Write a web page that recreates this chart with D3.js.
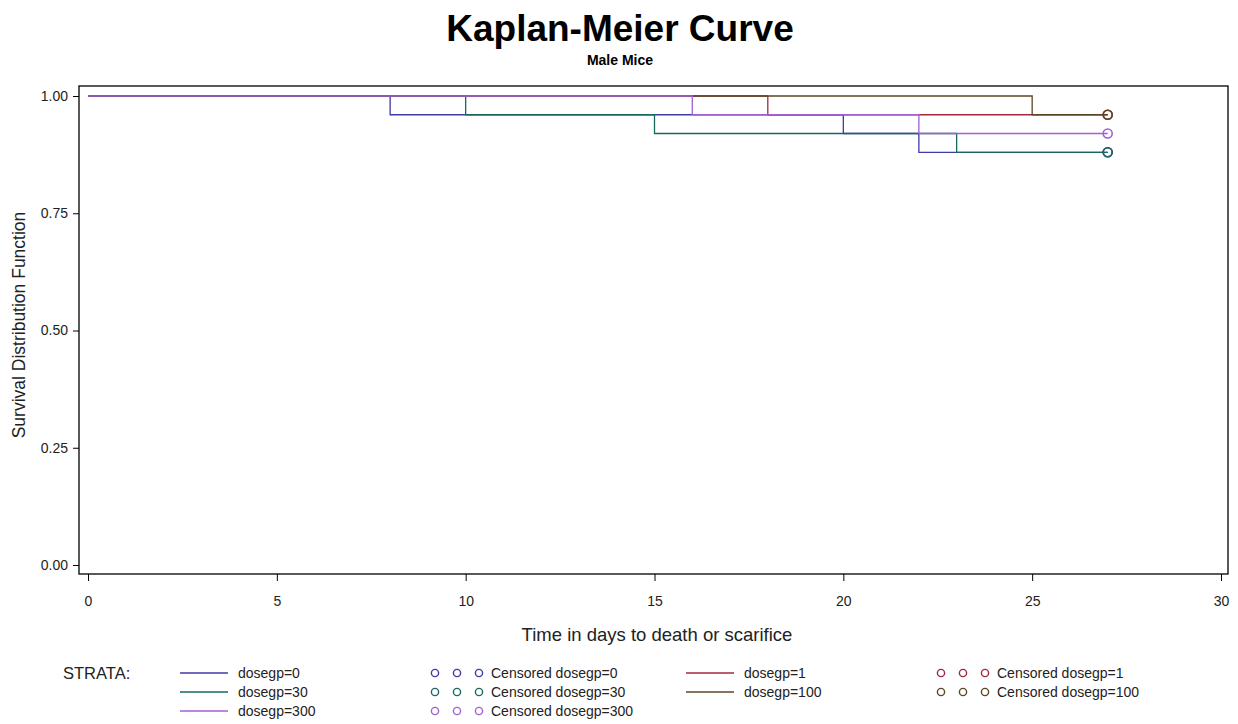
<!DOCTYPE html>
<html>
<head>
<meta charset="utf-8">
<script src="https://cdn.jsdelivr.net/npm/d3@7"></script>
<style>
  html, body { margin: 0; padding: 0; background: #fff; }
  svg { display: block; font-family: Arial, "Liberation Sans", sans-serif; }
</style>
</head>
<body>
<svg id="chart" width="1238" height="724"></svg>
<script>
// ---- data ----
const strataLabels = ["dosegp=0", "dosegp=1", "dosegp=30", "dosegp=100", "dosegp=300"];
const strataColors = ["#4039a8", "#a3283e", "#17695f", "#5a4624", "#a35fd4"];
const dose0Times = [0, 8, 20, 22];
const dose0Surv = [1.00, 0.96, 0.92, 0.88];
const dose1Times = [0, 18];
const dose1Surv = [1.00, 0.96];
const dose30Times = [0, 10, 15, 23];
const dose30Surv = [1.00, 0.96, 0.92, 0.88];
const dose100Times = [0, 25];
const dose100Surv = [1.00, 0.96];
const dose300Times = [0, 16, 22];
const dose300Surv = [1.00, 0.96, 0.92];
const censorTimes = [27, 27, 27, 27, 27];
const xTicks = [0, 5, 10, 15, 20, 25, 30];
const yTicks = [0.00, 0.25, 0.50, 0.75, 1.00];

const timesList = [dose0Times, dose1Times, dose30Times, dose100Times, dose300Times];
const survList = [dose0Surv, dose1Surv, dose30Surv, dose100Surv, dose300Surv];

const svg = d3.select("#chart");

const x = d3.scaleLinear().domain([0, 30]).range([88, 1221]);
const y = d3.scaleLinear().domain([0, 1]).range([565, 96]);
const frame = { left: 79, right: 1228, top: 86, bottom: 574 };

// titles
svg.append("text").attr("x", 620).attr("y", 41).attr("text-anchor", "middle")
  .attr("font-size", 37).attr("font-weight", "bold").attr("fill", "#000")
  .text("Kaplan-Meier Curve");
svg.append("text").attr("x", 620).attr("y", 65).attr("text-anchor", "middle")
  .attr("font-size", 14).attr("font-weight", "bold").attr("fill", "#000")
  .text("Male Mice");

// frame
svg.append("rect").attr("x", frame.left).attr("y", frame.top)
  .attr("width", frame.right - frame.left).attr("height", frame.bottom - frame.top)
  .attr("fill", "none").attr("stroke", "#000").attr("stroke-width", 1.3);

// y axis
const yAxis = d3.axisLeft(y).tickValues(yTicks).tickFormat(d3.format(".2f")).tickSize(6).tickPadding(5);
const gy = svg.append("g").attr("transform", `translate(${frame.left},0)`).call(yAxis);
gy.select(".domain").remove();
gy.selectAll("text").attr("font-size", 14).attr("fill", "#222").attr("font-family", "Arial, 'Liberation Sans', sans-serif");
gy.selectAll("line").attr("stroke", "#000");

// x axis
const xAxis = d3.axisBottom(x).tickValues(xTicks).tickFormat(d3.format("d")).tickSize(7).tickPadding(15);
const gx = svg.append("g").attr("transform", `translate(0,${frame.bottom})`).call(xAxis);
gx.select(".domain").remove();
gx.selectAll("text").attr("font-size", 14).attr("fill", "#222").attr("font-family", "Arial, 'Liberation Sans', sans-serif");
gx.selectAll("line").attr("stroke", "#000");

// axis labels
svg.append("text").attr("x", 657).attr("y", 641).attr("text-anchor", "middle")
  .attr("font-size", 18.5).attr("fill", "#222").text("Time in days to death or scarifice");
svg.append("text").attr("transform", "translate(25,325) rotate(-90)").attr("text-anchor", "middle")
  .attr("font-size", 17.5).attr("fill", "#222").text("Survival Distribution Function");

// survival step curves
const line = d3.line().x(d => x(d[0])).y(d => y(d[1])).curve(d3.curveStepAfter);
const plot = svg.append("g");
strataLabels.forEach((lab, i) => {
  const pts = timesList[i].map((t, j) => [t, survList[i][j]]);
  pts.push([censorTimes[i], survList[i][survList[i].length - 1]]);
  plot.append("path").datum(pts).attr("d", line)
    .attr("fill", "none").attr("stroke", strataColors[i]).attr("stroke-width", 1.3);
});
strataLabels.forEach((lab, i) => {
  plot.append("circle")
    .attr("cx", x(censorTimes[i])).attr("cy", y(survList[i][survList[i].length - 1]))
    .attr("r", 4.5).attr("fill", "none").attr("stroke", strataColors[i]).attr("stroke-width", 1.6);
});

// legend
const lg = svg.append("g").attr("font-size", 14).attr("fill", "#222");
lg.append("text").attr("x", 63).attr("y", 679).attr("font-size", 16.5).text("STRATA:");
const rowsY = [673, 692, 711];
strataLabels.forEach((lab, i) => {
  const row = Math.floor(i / 2), col = i % 2;
  const cy = rowsY[row];
  const lx0 = col === 0 ? 180 : 686;
  const cx0 = col === 0 ? 435 : 941;
  lg.append("line").attr("x1", lx0).attr("x2", lx0 + 48).attr("y1", cy).attr("y2", cy)
    .attr("stroke", strataColors[i]).attr("stroke-width", 1.3);
  lg.append("text").attr("x", lx0 + 58).attr("y", cy + 5).text(lab);
  [0, 1, 2].forEach(k => {
    lg.append("circle").attr("cx", cx0 + k * 22).attr("cy", cy).attr("r", 3.6)
      .attr("fill", "none").attr("stroke", strataColors[i]).attr("stroke-width", 1.4);
  });
  lg.append("text").attr("x", cx0 + 56).attr("y", cy + 5).text("Censored " + lab);
});
</script>
</body>
</html>
